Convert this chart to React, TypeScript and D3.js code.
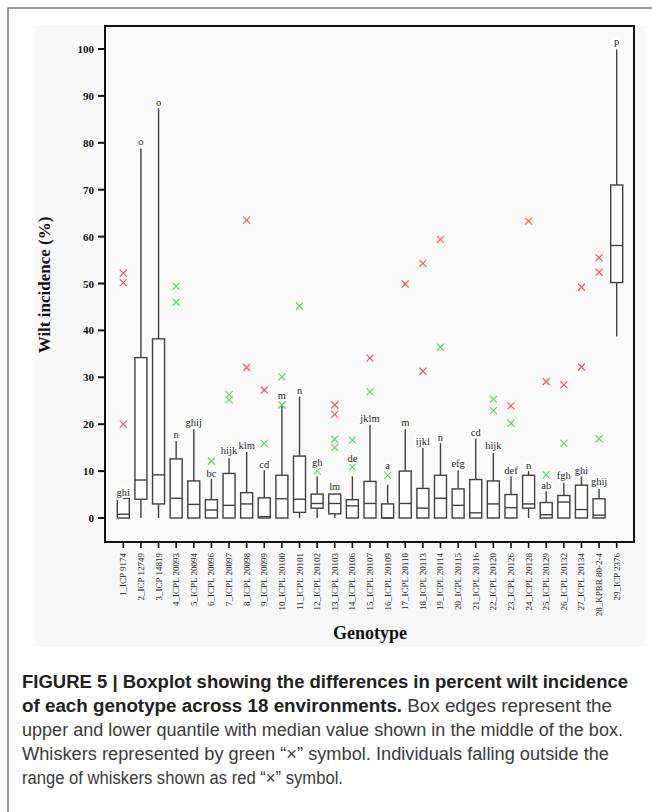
import * as d3 from "d3";
import React from "react";

// genotype names (x axis)
const genotypes = [
	"1_ICP 9174", "2_ICP 12749", "3_ICP 14819", "4_ICPL 20093", "5_ICPL 20094",
	"6_ICPL 20096", "7_ICPL 20097", "8_ICPL 20098", "9_ICPL 20099", "10_ICPL 20100",
	"11_ICPL 20101", "12_ICPL 20102", "13_ICPL 20103", "14_ICPL 20106", "15_ICPL 20107",
	"16_ICPL 20109", "17_ICPL 20110", "18_ICPL 20113", "19_ICPL 20114", "20_ICPL 20115",
	"21_ICPL 20116", "22_ICPL 20120", "23_ICPL 20126", "24_ICPL 20128", "25_ICPL 20129",
	"26_ICPL 20132", "27_ICPL 20134", "28_KPBR 80-2-4", "29_ICP 2376",
];

// box summary, one value per genotype
const q1 = [0, 4.0, 3.0, 0, 0, 0, 0, 0, 0, 0, 1.2, 2.1, 0.9, 0, 0, 0, 0, 0, 0, 0, 0, 0, 0, 2.1, 0, 0, 0, 0, 50.2];
const median = [0.8, 8.1, 9.2, 4.2, 2.9, 1.7, 2.7, 3.0, 0.3, 4.1, 4.0, 3.1, 3.1, 2.6, 3.1, 0, 3.1, 2.1, 4.2, 2.7, 1.1, 3.0, 2.2, 3.0, 0.7, 3.4, 1.8, 0.6, 58.1];
const q3 = [4.2, 34.2, 38.2, 12.6, 7.9, 3.9, 9.5, 5.4, 4.3, 9.1, 13.2, 5.1, 5.1, 3.9, 7.8, 3.0, 10.0, 6.3, 9.1, 6.2, 8.2, 7.9, 5.0, 9.1, 3.3, 4.8, 7.0, 4.1, 71.0];
const whiskerLow = [0, 0, 0, 0, 0, 0, 0, 0, 0, 0, 0, 0, 0, 0, 0, 0, 0, 0, 0, 0, 0, 0, 0, 0, 0, 0, 0, 0, 38.7];
const whiskerHigh = [4.2, 78.8, 87.4, 16.4, 18.9, 8.6, 13.1, 14.1, 10.2, 23.9, 25.9, 8.9, 5.1, 8.9, 19.9, 7.1, 18.9, 15.0, 16.0, 10.2, 16.9, 14.1, 8.9, 10.7, 5.7, 7.9, 8.9, 6.2, 99.9];

// significance letters and the value they sit at
const letters = ["ghi", "o", "o", "n", "ghij", "bc", "hijk", "klm", "cd", "m", "n", "gh", "lm", "de", "jklm", "a", "m", "ijkl", "n", "efg", "cd", "hijk", "def", "n", "ab", "fgh", "ghi", "ghij", "p"];
const letterAt = [5.4, 80.4, 88.6, 17.9, 20.4, 9.6, 14.4, 15.4, 11.4, 26.1, 27.3, 11.8, 6.7, 12.7, 21.2, 11.2, 20.3, 16.4, 17.3, 11.7, 18.2, 15.4, 10.2, 11.2, 6.9, 9.1, 10.2, 7.9, 101.7];

// green "x" (whisker points) [genotype number, value]
const greenPoints: [number, number][] = [
	[4, 49.4], [4, 46], [6, 12.1], [7, 26.3], [7, 25.2], [9, 15.9], [10, 30.1], [10, 24.1],
	[11, 45.2], [12, 10], [13, 16.8], [13, 15.0], [14, 16.6], [14, 10.9], [15, 26.9], [16, 9.1],
	[19, 36.4], [22, 25.3], [22, 22.9], [23, 20.2], [25, 9.2], [26, 15.9], [28, 16.9],
];
// red "x" (outliers)
const redPoints: [number, number][] = [
	[1, 52.2], [1, 50.2], [1, 20], [8, 63.5], [8, 32.1], [9, 27.3], [13, 24.1], [13, 22.1],
	[15, 34.1], [17, 49.9], [18, 54.3], [18, 31.3], [19, 59.4], [23, 23.9], [24, 63.3],
	[25, 29.1], [26, 28.4], [27, 49.2], [27, 32.2], [28, 55.5], [28, 52.4],
];

const yTicks = [0, 10, 20, 30, 40, 50, 60, 70, 80, 90, 100];

const SERIF = "'Liberation Serif', 'Times New Roman', serif";
const SANS = "'Liberation Sans', Arial, sans-serif";

const plot = { left: 105, top: 26, right: 634, bottom: 542 };

const Cross = ({ x, y, color }: { x: number; y: number; color: string }) => (
	<path
		d={`M${x - 3.5},${y - 3.5}L${x + 3.5},${y + 3.5}M${x - 3.5},${y + 3.5}L${x + 3.5},${y - 3.5}`}
		stroke={color}
		strokeWidth={1.2}
	/>
);

const App = () => {
	const x = d3.scalePoint<string>().domain(genotypes).range([123.3, 616.7]);
	const y = d3.scaleLinear().domain([0, 100]).range([518, 49]);
	const bw = 12;

	return (
		<svg
			width={652}
			height={812}
			style={{ position: "absolute", left: 0, top: 0, background: "#fff" }}
		>
			{/* outer frame */}
			<path d="M8,812V8H652" fill="none" stroke="#7a7a7a" strokeWidth={1.5} />
			<rect x={35} y={25} width={610} height={622} fill="#f8f8f8" />

			<rect
				x={plot.left}
				y={plot.top}
				width={plot.right - plot.left}
				height={plot.bottom - plot.top}
				fill="#fafafa"
				stroke="#111"
				strokeWidth={2}
			/>

			{/* y axis */}
			<g fontFamily={SERIF} fontWeight="bold" fontSize={11} fill="#111">
				{yTicks.map((t) => (
					<g key={t}>
						<line x1={98} x2={plot.left} y1={y(t)} y2={y(t)} stroke="#111" strokeWidth={2} />
						<text x={94} y={y(t) + 4} textAnchor="end">
							{t}
						</text>
					</g>
				))}
			</g>

			{/* x axis */}
			<g fontFamily={SERIF} fontSize={9} fill="#222">
				{genotypes.map((g) => (
					<g key={g}>
						<line x1={x(g)} x2={x(g)} y1={plot.bottom} y2={plot.bottom + 6} stroke="#111" strokeWidth={1.6} />
						<text
							transform={`translate(${x(g)! + 3},${plot.bottom + 11}) rotate(-90)`}
							textAnchor="end"
						>
							{g}
						</text>
					</g>
				))}
			</g>

			{/* boxes */}
			{genotypes.map((g, i) => {
				const cx = x(g)!;
				return (
					<g key={g} stroke="#404040" strokeWidth={1.4} fill="#fff">
						<line x1={cx} x2={cx} y1={y(whiskerHigh[i])} y2={y(q3[i])} />
						<line x1={cx} x2={cx} y1={y(q1[i])} y2={y(whiskerLow[i])} />
						<rect x={cx - bw / 2} y={y(q3[i])} width={bw} height={y(q1[i]) - y(q3[i])} />
						<line x1={cx - bw / 2} x2={cx + bw / 2} y1={y(median[i])} y2={y(median[i])} />
					</g>
				);
			})}

			{greenPoints.map(([i, v], k) => (
				<Cross key={`g${k}`} x={x(genotypes[i - 1])!} y={y(v)} color="#5fd65f" />
			))}
			{redPoints.map(([i, v], k) => (
				<Cross key={`r${k}`} x={x(genotypes[i - 1])!} y={y(v)} color="#ff5757" />
			))}

			{/* letters */}
			<g fontFamily={SERIF} fontSize={10.5} fill="#222" textAnchor="middle">
				{genotypes.map((g, i) => (
					<text
						key={g}
						x={x(g)}
						y={y(letterAt[i])}
						dy="0.35em"
						stroke="#fff"
						strokeWidth={4}
						paintOrder="stroke"
						strokeLinejoin="round"
					>
						{letters[i]}
					</text>
				))}
			</g>

			{/* axis titles */}
			<text
				transform="translate(50,285) rotate(-90)"
				textAnchor="middle"
				fontFamily={SERIF}
				fontWeight="bold"
				fontSize={17}
				fill="#111"
			>
				Wilt incidence (%)
			</text>
			<text
				x={370}
				y={639}
				textAnchor="middle"
				fontFamily={SERIF}
				fontWeight="bold"
				fontSize={18}
				fill="#111"
			>
				Genotype
			</text>

			{/* caption */}
			<g fontFamily={SANS} fontSize={17.5} fill="#3a3a3a">
				<text x={22} y={688} fontWeight="bold" fill="#222" textLength={606} lengthAdjust="spacingAndGlyphs">
					FIGURE 5 | Boxplot showing the differences in percent wilt incidence
				</text>
				<text x={22} y={712} textLength={590} lengthAdjust="spacingAndGlyphs">
					<tspan fontWeight="bold" fill="#222">of each genotype across 18 environments.</tspan>
					<tspan> Box edges represent the</tspan>
				</text>
				<text x={22} y={736} textLength={601} lengthAdjust="spacingAndGlyphs">
					upper and lower quantile with median value shown in the middle of the box.
				</text>
				<text x={22} y={760} textLength={587} lengthAdjust="spacingAndGlyphs">
					Whiskers represented by green “×” symbol. Individuals falling outside the
				</text>
				<text x={22} y={784} textLength={321} lengthAdjust="spacingAndGlyphs">
					range of whiskers shown as red “×” symbol.
				</text>
			</g>
		</svg>
	);
};

export default App;
